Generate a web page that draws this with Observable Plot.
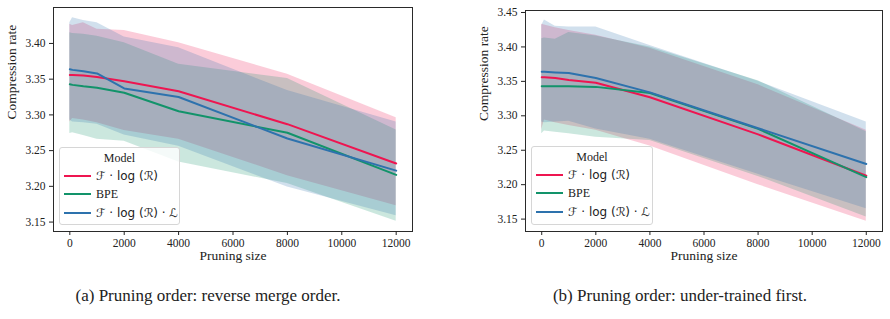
<!DOCTYPE html>
<html>
<head>
<meta charset="utf-8">
<script src="https://cdn.jsdelivr.net/npm/d3@7"></script>
<script src="https://cdn.jsdelivr.net/npm/@observablehq/plot@0.6"></script>
<style>
  body { margin: 0; background: #fff; }
  #wrap { position: relative; width: 890px; height: 319px; overflow: hidden; font-family: "Liberation Serif", serif; color: #222; }
  #wrap svg, #wrap svg text { font-family: "Liberation Serif", serif; }
  .panel { position: absolute; top: 0; }
  .legend { position: absolute; border: 1px solid #d6d6d6; border-radius: 3px; background: rgba(255,255,255,0.8); box-sizing: border-box; }
  .legend .title { position: absolute; left: 0; right: 0; text-align: center; font-size: 12px; line-height: 12px; }
  .legend .sw { position: absolute; height: 2px; }
  .legend .lab { position: absolute; line-height: 12px; white-space: nowrap; }
  .cap { position: absolute; font-size: 17px; line-height: 18px; white-space: nowrap; transform: translateX(-50%); }
</style>
</head>
<body>
<div id="wrap"></div>
<script>
// ---------- data ----------
const pruningSizes = [0, 100, 500, 1000, 2000, 4000, 8000, 12000];
const models = ["ℱ · log (ℛ)", "BPE", "ℱ · log (ℛ) · ℒ"];
const modelColors = ["#ee1550", "#12936a", "#2d72ad"];
const xTicks = [0, 2000, 4000, 6000, 8000, 10000, 12000];
const yTicksA = [3.15, 3.20, 3.25, 3.30, 3.35, 3.40];
const yTicksB = [3.15, 3.20, 3.25, 3.30, 3.35, 3.40, 3.45];
const captions = ["(a) Pruning order: reverse merge order.", "(b) Pruning order: under-trained first."];
const legendTitle = "Model";
const xLabel = "Pruning size";
const yLabel = "Compression rate";

// panel (a): reverse merge order
const aRedMean   = [3.356, 3.356, 3.355, 3.353, 3.347, 3.333, 3.287, 3.232];
const aRedHi     = [3.427, 3.425, 3.429, 3.420, 3.418, 3.401, 3.357, 3.296];
const aRedLo     = [3.290, 3.295, 3.293, 3.289, 3.278, 3.266, 3.215, 3.173];
const aBpeMean   = [3.343, 3.342, 3.340, 3.338, 3.331, 3.305, 3.275, 3.216];
const aBpeHi     = [3.415, 3.414, 3.413, 3.410, 3.401, 3.371, 3.351, 3.279];
const aBpeLo     = [3.274, 3.275, 3.271, 3.266, 3.263, 3.234, 3.204, 3.151];
const aBlueMean  = [3.364, 3.363, 3.361, 3.358, 3.337, 3.325, 3.267, 3.222];
const aBlueHi    = [3.429, 3.436, 3.432, 3.429, 3.409, 3.394, 3.334, 3.290];
const aBlueLo    = [3.293, 3.290, 3.289, 3.287, 3.272, 3.256, 3.199, 3.159];

// panel (b): under-trained first
const bRedMean   = [3.356, 3.356, 3.355, 3.352, 3.348, 3.327, 3.273, 3.213];
const bRedHi     = [3.433, 3.432, 3.428, 3.424, 3.417, 3.398, 3.345, 3.279];
const bRedLo     = [3.280, 3.294, 3.290, 3.286, 3.279, 3.256, 3.200, 3.147];
const bBpeMean   = [3.343, 3.343, 3.343, 3.343, 3.342, 3.333, 3.281, 3.211];
const bBpeHi     = [3.412, 3.413, 3.411, 3.421, 3.416, 3.400, 3.351, 3.277];
const bBpeLo     = [3.274, 3.278, 3.276, 3.274, 3.269, 3.264, 3.212, 3.153];
const bBlueMean  = [3.364, 3.364, 3.363, 3.362, 3.355, 3.334, 3.282, 3.230];
const bBlueHi    = [3.431, 3.439, 3.430, 3.429, 3.429, 3.402, 3.350, 3.291];
const bBlueLo    = [3.291, 3.290, 3.291, 3.292, 3.281, 3.266, 3.215, 3.165];

function buildSeries(means, his, los) {
  return models.map((m, i) => pruningSizes.map((x, j) => ({
    model: m, x, y: means[i][j], hi: his[i][j], lo: los[i][j]
  })));
}
const seriesA = buildSeries([aRedMean, aBpeMean, aBlueMean], [aRedHi, aBpeHi, aBlueHi], [aRedLo, aBpeLo, aBlueLo]);
const seriesB = buildSeries([bRedMean, bBpeMean, bBlueMean], [bRedHi, bBpeHi, bBlueHi], [bRedLo, bBpeLo, bBlueLo]);

const serif = "Liberation Serif";
function panel(series, opts) {
  return Plot.plot({
    width: 445, height: 270,
    marginLeft: opts.ml, marginRight: opts.mr, marginTop: opts.mt, marginBottom: 39,
    x: {domain: [-600, 12600]},
    y: {domain: opts.yDomain},
    style: {background: "transparent", overflow: "visible", color: "#222"},
    marks: [
      ...series.map((s, i) => Plot.areaY(s, {x: "x", y1: "lo", y2: "hi", fill: modelColors[i], fillOpacity: 0.22})),
      ...series.map((s, i) => Plot.lineY(s, {x: "x", y: "y", stroke: modelColors[i], strokeWidth: 2})),
      Plot.frame({stroke: "#2a2a2a", strokeWidth: 1}),
      Plot.axisX({ticks: xTicks, tickFormat: d3.format("d"), tickSize: 4, tickPadding: 3, fontSize: 11.5, fontFamily: serif, label: null}),
      Plot.axisY({ticks: opts.yTicks, tickFormat: d3.format(".2f"), tickSize: 4, tickPadding: 4, fontSize: 11.5, fontFamily: serif, label: null}),
      Plot.text([yLabel], {frameAnchor: "left", dx: -42, rotate: -90, fontSize: 13.5, fontFamily: serif}),
      Plot.text([xLabel], {frameAnchor: "bottom", dy: 28, fontSize: 13.5, fontFamily: serif})
    ]
  });
}

const wrap = document.getElementById("wrap");
function addPanel(el, left) {
  el.classList.add("panel");
  el.style.left = left + "px";
  wrap.appendChild(el);
}
addPanel(panel(seriesA, {ml: 53, mr: 33, mt: 7, yDomain: [3.1368, 3.4503], yTicks: yTicksA}), 0);
addPanel(panel(seriesB, {ml: 80, mr: 8, mt: 10, yDomain: [3.132, 3.4529], yTicks: yTicksB}), 445);

function addLegend(left, top, width, height) {
  const lg = document.createElement("div");
  lg.className = "legend";
  Object.assign(lg.style, {left: left + "px", top: top + "px", width: width + "px", height: height + "px"});
  const t = document.createElement("div");
  t.className = "title"; t.textContent = legendTitle; t.style.top = "4px";
  lg.appendChild(t);
  const rowY = [27.5, 46, 65];
  models.forEach((m, i) => {
    const sw = document.createElement("div");
    sw.className = "sw";
    Object.assign(sw.style, {left: "4px", width: "27px", top: (rowY[i] - 1) + "px", background: modelColors[i]});
    lg.appendChild(sw);
    const lab = document.createElement("div");
    lab.className = "lab";
    lab.textContent = m;
    const isMath = m.includes("log");
    lab.style.fontFamily = isMath ? "'DejaVu Sans', sans-serif" : "'Liberation Serif', serif";
    lab.style.fontSize = isMath ? "12px" : "12px";
    Object.assign(lab.style, {left: "36px", top: (rowY[i] - 6) + "px"});
    lg.appendChild(lab);
  });
  wrap.appendChild(lg);
}
addLegend(59, 147, 121, 78);
addLegend(531, 146, 122, 79);

captions.forEach((c, i) => {
  const d = document.createElement("div");
  d.className = "cap";
  d.textContent = c;
  d.style.left = [208, 680][i] + "px";
  d.style.top = "287px";
  wrap.appendChild(d);
});
</script>
</body>
</html>
